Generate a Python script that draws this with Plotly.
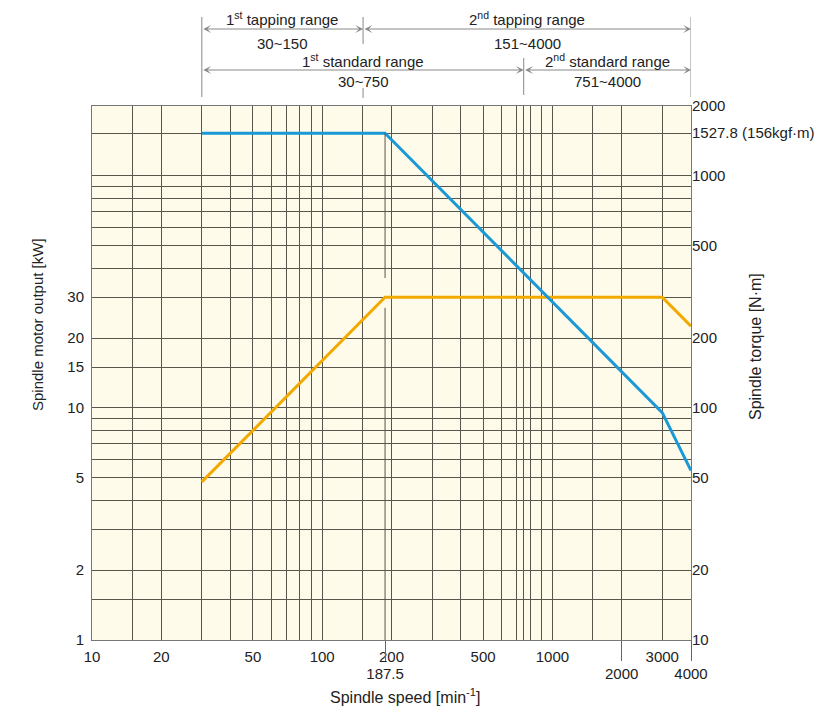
import math
import plotly.graph_objects as go

# ---------------- data ----------------
speed = [30, 187.5, 3000, 4000]                # spindle speed [min-1]
torque_nm = [1527.8, 1527.8, 95.5, 53.7]        # spindle torque [N·m]
output_kw = [4.8, 30, 30, 22.5]                 # spindle motor output [kW]

x_grid_vals = [15, 20, 30, 40, 50, 60, 70, 80, 90, 100, 150, 200, 300, 400, 500,
               600, 700, 750, 800, 900, 1000, 1500, 2000, 3000]
x_label_vals = [10, 20, 50, 100, 200, 500, 1000, 3000]
x_label_row2 = [187.5, 2000, 4000]

kw_tick_vals = [1, 1.5, 2, 3, 4, 5, 6, 7, 8, 9, 10, 15, 20, 30]
kw_tick_text = ['1', '', '2', '', '', '5', '', '', '', '', '10', '15', '20', '30']

torque_tick_vals = [10, 20, 50, 100, 200, 300, 400, 500, 600, 700, 800, 900, 1000, 1527.8, 2000]
torque_tick_text = ['10', '20', '50', '100', '200', '', '', '500', '', '', '', '', '1000',
                    '1527.8 (156kgf·m)', '2000']

ranges = [  # title, value text, start, end, row
    ("1<sup>st</sup> tapping range", "30~150", 30, 150.5, 1),
    ("2<sup>nd</sup> tapping range", "151~4000", 150.5, 4000, 1),
    ("1<sup>st</sup> standard range", "30~750", 30, 750.5, 2),
    ("2<sup>nd</sup> standard range", "751~4000", 750.5, 4000, 2),
]
break_speed = 187.5

# ---------------- style ----------------
FONT = "Liberation Sans, Arial, sans-serif"
GRID = "#58554c"
BLUE = "#1b98d6"
ORANGE = "#f2a900"
TXT = "#222222"

# page body has an 8px margin, so the figure is drawn 8px in from the top-left
OFF = 8
L, T, PW, PH = 92 - OFF, 106 - OFF, 599, 534
W, H = 829 - OFF, 708 - OFF

fig = go.Figure()
fig.add_trace(go.Scatter(x=speed, y=output_kw, mode="lines", yaxis="y", xaxis="x",
                         line=dict(color=ORANGE, width=3), name="Output", showlegend=False))
fig.add_trace(go.Scatter(x=speed, y=torque_nm, mode="lines", yaxis="y2", xaxis="x",
                         line=dict(color=BLUE, width=3), name="Torque", showlegend=False))
# helper trace so the second (label-only) x axis is drawn
fig.add_trace(go.Scatter(x=x_label_row2, y=[output_kw[0]] * len(x_label_row2), mode="lines",
                         xaxis="x2", yaxis="y", line=dict(width=0, color="rgba(0,0,0,0)"),
                         hoverinfo="skip", showlegend=False))

xr = [1, math.log10(4000)]
fig.update_layout(
    width=W, height=H,
    margin=dict(l=L, r=W - L - PW, t=T, b=H - T - PH, autoexpand=False),
    paper_bgcolor="white", plot_bgcolor="#fffbea",
    font=dict(family=FONT, size=15, color=TXT),
    xaxis=dict(type="log", range=xr, tickmode="array",
               tickvals=[10] + x_grid_vals + [4000],
               ticktext=[str(v) if v in x_label_vals else "" for v in [10] + x_grid_vals + [4000]],
               showgrid=True, gridcolor=GRID, gridwidth=1,
               ticks="outside", ticklen=3, tickcolor="rgba(0,0,0,0)",
               showline=True, linecolor="#777", mirror=True, zeroline=False),
    xaxis2=dict(type="log", range=xr, overlaying="x", side="bottom", anchor="y",
                tickmode="array", tickvals=x_label_row2, ticktext=[str(v) for v in x_label_row2],
                showgrid=False, ticks="outside", ticklen=20, tickcolor="#666", tickwidth=1,
                showline=False, zeroline=False),
    yaxis=dict(type="log", range=[0, math.log10(200)], tickmode="array",
               tickvals=kw_tick_vals, ticktext=kw_tick_text,
               showgrid=True, gridcolor=GRID, gridwidth=1,
               ticks="outside", ticklen=4, tickcolor="rgba(0,0,0,0)",
               showline=True, linecolor="#777", mirror=True, zeroline=False),
    yaxis2=dict(type="log", range=[1, math.log10(2000)], overlaying="y", side="right",
                tickmode="array", tickvals=torque_tick_vals, ticktext=torque_tick_text,
                showgrid=True, gridcolor=GRID, gridwidth=1, ticks="", zeroline=False,
                showline=False),
)

shapes = []
annotations = []

# broken vertical line at 187.5
shapes.append(dict(type="line", xref="x", yref="y2", x0=break_speed, x1=break_speed,
                   y0=torque_nm[0], y1=363, line=dict(color=GRID, width=1)))
shapes.append(dict(type="line", xref="x", yref="y", x0=break_speed, x1=break_speed,
                   y0=1, y1=27, line=dict(color=GRID, width=1)))


def py(px):
    """reference pixel row -> paper y"""
    return (640 - px) / PH


def pxx(px):
    """reference pixel column -> paper x"""
    return (px - 92) / PW


row_cfg = {
    1: dict(title=py(18), arrow=py(29), value=py(43)),
    2: dict(title=py(61), arrow=py(70), value=py(82)),
}
for title, val, x0, x1, row in ranges:
    c = row_cfg[row]
    mid = (math.log10(x0) + math.log10(x1)) / 2
    annotations.append(dict(x=math.log10(x1), y=c["arrow"], xref="x", yref="paper",
                            ax=math.log10(x0), ay=0, axref="x", ayref="pixel",
                            text="", showarrow=True, arrowside="end+start",
                            arrowhead=3, startarrowhead=3, arrowsize=1.3, startarrowsize=1.3,
                            arrowwidth=1, arrowcolor="#888", standoff=0, startstandoff=0))
    annotations.append(dict(x=mid, y=c["title"], xref="x", yref="paper", text=title,
                            xanchor="center", yanchor="middle",
                            showarrow=False, font=dict(size=15, color=TXT)))
    annotations.append(dict(x=mid, y=c["value"], xref="x", yref="paper", text=val,
                            xanchor="center", yanchor="middle",
                            showarrow=False, font=dict(size=15, color=TXT)))

# vertical boundary lines of the ranges
for xv, ya, yb in [(30, 17, 97), (150.5, 17, 44), (150.5, 88, 98), (750.5, 58, 95), (4000, 17, 97)]:
    shapes.append(dict(type="line", xref="x", yref="paper", x0=xv, x1=xv,
                       y0=py(ya), y1=py(yb), line=dict(color="#888", width=1)))

# axis titles
annotations.append(dict(x=pxx(405), y=py(696), xref="paper", yref="paper",
                        xanchor="center", yanchor="middle",
                        text="Spindle speed [min<sup>-1</sup>]", showarrow=False,
                        font=dict(size=16, color=TXT)))
annotations.append(dict(x=pxx(37), y=py(325), xref="paper", yref="paper",
                        xanchor="center", yanchor="middle",
                        text="Spindle motor output [kW]", textangle=-90, showarrow=False,
                        font=dict(size=15, color=TXT)))
annotations.append(dict(x=pxx(755), y=py(347), xref="paper", yref="paper",
                        xanchor="center", yanchor="middle",
                        text="Spindle torque [N·m]", textangle=-90, showarrow=False,
                        font=dict(size=16, color=TXT)))

fig.update_layout(shapes=shapes, annotations=annotations)
fig.write_html("out.html")
